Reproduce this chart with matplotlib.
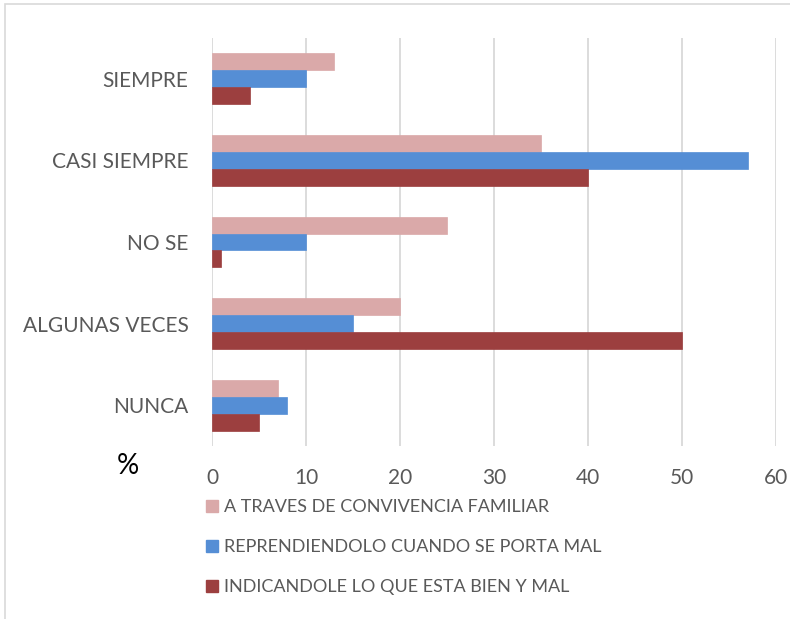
import matplotlib
matplotlib.use("Agg")
import matplotlib.pyplot as plt
from matplotlib.patches import Patch, Rectangle
import numpy as np

categories = ["SIEMPRE", "CASI SIEMPRE", "NO SE", "ALGUNAS VECES", "NUNCA"]
series_names = ["A TRAVES DE CONVIVENCIA FAMILIAR",
                "REPRENDIENDOLO CUANDO SE PORTA MAL",
                "INDICANDOLE LO QUE ESTA BIEN Y MAL"]
convivencia = [13, 35, 25, 20, 7]
reprendiendolo = [10, 57, 10, 15, 8]
indicandole = [4, 40, 1, 50, 5]
x_ticks = [0, 10, 20, 30, 40, 50, 60]
colors = ["#DAA9A9", "#558ED5", "#9C3F3F"]

plt.rcParams['font.family'] = ['Lato', 'DejaVu Sans']

W, H = 790, 619
fig = plt.figure(figsize=(W / 100, H / 100), dpi=100)
ax = fig.add_axes([212 / W, 1 - 446 / H, (776 - 212) / W, (446 - 38) / H])

y = np.arange(len(categories))
bh = 0.208
for k, (vals, col) in enumerate(zip([convivencia, reprendiendolo, indicandole], colors)):
    ax.barh(y + (k - 1) * bh, vals, height=bh, color=col, zorder=3,
            edgecolor=col, linewidth=0.5)

ax.set_xlim(0, 60)
ax.set_ylim(len(categories) - 0.5, -0.5)
ax.set_xticks(x_ticks)
ax.set_xticklabels([str(t) for t in x_ticks])
ax.set_yticks(y)
ax.set_yticklabels(categories)
ax.grid(axis='x', color='#D9D9D9', linewidth=1.3, zorder=0)
ax.grid(axis='y', visible=False)
for s in ax.spines.values():
    s.set_visible(False)
ax.tick_params(axis='both', length=0, colors='#595959', labelsize=15)
ax.tick_params(axis='x', pad=16)
ax.tick_params(axis='y', pad=17)

fig.text(128 / W, 1 - 466 / H, "%", ha='center', va='center', fontsize=20, color='black')

handles = [Patch(facecolor=c, edgecolor=c) for c in colors]
fig.legend(handles, series_names, loc='upper left',
           bbox_to_anchor=(190 / W, 1 - 483 / H), frameon=False,
           fontsize=13, labelcolor='#595959', handlelength=0.65, handleheight=0.7,
           handletextpad=0.35, labelspacing=1.33)

fig.patches.append(Rectangle((5 / W, -0.1), 1.2, 1 - 4 / H + 0.1, transform=fig.transFigure,
                             fill=False, edgecolor='#D9D9D9', linewidth=1.2))

fig.savefig("out.png", dpi=100, facecolor='white')
